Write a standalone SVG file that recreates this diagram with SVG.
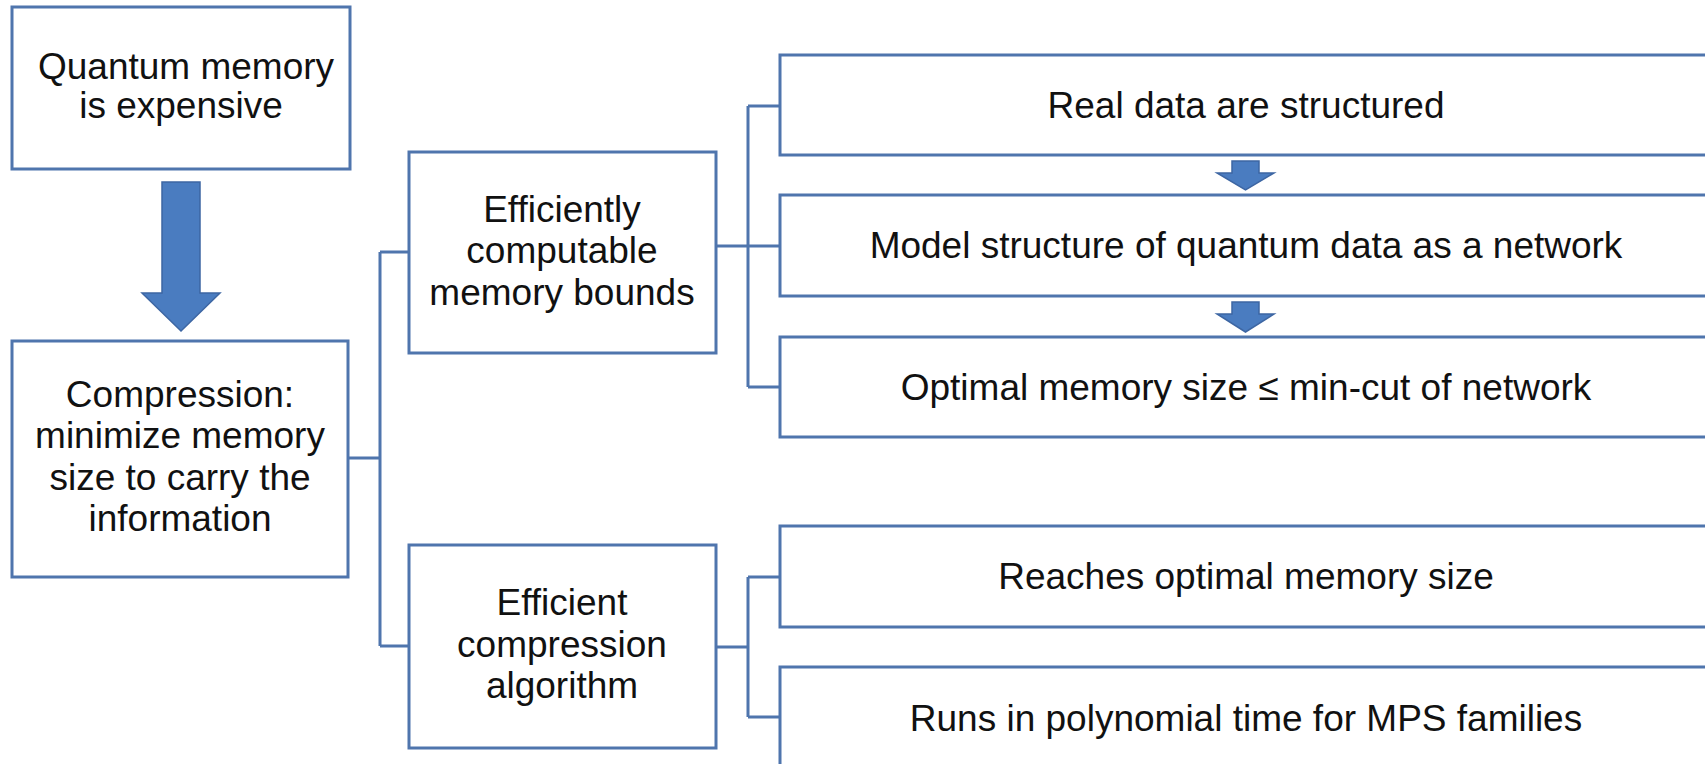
<svg xmlns="http://www.w3.org/2000/svg" width="1705" height="764" viewBox="0 0 1705 764">
<style>
.box{fill:#ffffff;stroke:#4f75ad;stroke-width:3}
.t{font-family:"Liberation Sans",Arial,sans-serif;font-size:37px;fill:#111111;text-anchor:middle}
.c{fill:none;stroke:#4f75ad;stroke-width:3}
.arr{fill:#4a7cc0;stroke:#3d66a3;stroke-width:1.5}
</style>
<rect width="1705" height="764" fill="#ffffff"/>
<g id="connectors">
<path class="c" d="M348,458 H380 M380,252 V646 M380,252 H409 M380,646 H409"/>
<path class="c" d="M716,246 H780 M748,106 V387 M748,106 H780 M748,387 H780"/>
<path class="c" d="M716,647 H748 M748,577 V717 M748,577 H780 M748,717 H780"/>
<polygon class="arr" points="162,182 200,182 200,293 220,293 181,331 142,293 162,293"/>
<polygon class="arr" points="1232,161 1259,161 1259,173 1274,173 1245.5,190 1217,173 1232,173"/>
<polygon class="arr" points="1232,302 1259,302 1259,314 1274,314 1245.5,332 1217,314 1232,314"/>
</g>
<g id="n1"><rect class="box" x="12" y="7" width="338" height="162"/>
<text class="t" x="186" y="79">Quantum memory</text><text class="t" x="181" y="118">is expensive</text></g>
<g id="n2"><rect class="box" x="12" y="341" width="336" height="236"/>
<text class="t" x="180" y="407">Compression:</text><text class="t" x="180" y="448">minimize memory</text><text class="t" x="180" y="490">size to carry the</text><text class="t" x="180" y="531">information</text></g>
<g id="n3"><rect class="box" x="409" y="152" width="307" height="201"/>
<text class="t" x="562" y="222">Efficiently</text><text class="t" x="562" y="263">computable</text><text class="t" x="562" y="305">memory bounds</text></g>
<g id="n4"><rect class="box" x="409" y="545" width="307" height="203"/>
<text class="t" x="562" y="615">Efficient</text><text class="t" x="562" y="657">compression</text><text class="t" x="562" y="698">algorithm</text></g>
<g id="n5"><rect class="box" x="780" y="55" width="940" height="100"/>
<text class="t" x="1246" y="118">Real data are structured</text></g>
<g id="n6"><rect class="box" x="780" y="195" width="940" height="101"/>
<text class="t" x="1246" y="258">Model structure of quantum data as a network</text></g>
<g id="n7"><rect class="box" x="780" y="337" width="940" height="100"/>
<text class="t" x="1246" y="400">Optimal memory size ≤ min-cut of network</text></g>
<g id="n8"><rect class="box" x="780" y="526" width="940" height="101"/>
<text class="t" x="1246" y="589">Reaches optimal memory size</text></g>
<g id="n9"><rect class="box" x="780" y="667" width="940" height="101"/>
<text class="t" x="1246" y="731">Runs in polynomial time for MPS families</text></g>
</svg>
